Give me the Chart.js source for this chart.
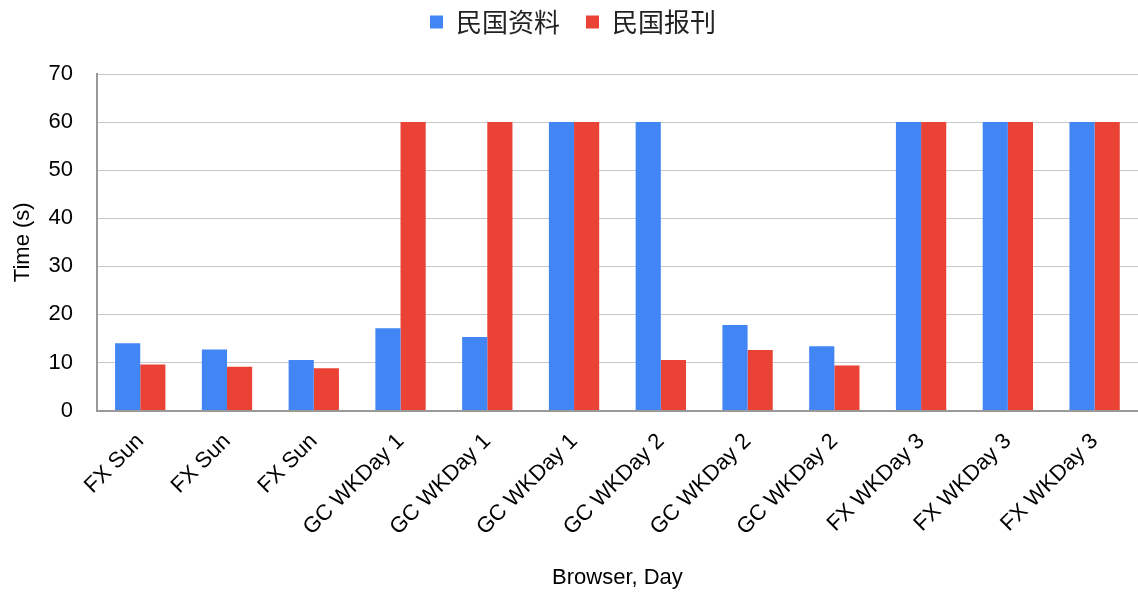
<!DOCTYPE html>
<html lang="zh">
<head>
    <meta charset="UTF-8">
    <title>Browser, Day</title>
    <script src="https://cdn.jsdelivr.net/npm/chart.js"></script>
    <style>
        html, body { margin: 0; padding: 0; background: #fff; }
        #wrap { width: 1138px; height: 595px; }
    </style>
</head>
<body>
    <div id="wrap"><canvas id="chart" width="1138" height="595"></canvas></div>

    <script>
        const categories = ['FX Sun', 'FX Sun', 'FX Sun', 'GC WKDay 1', 'GC WKDay 1', 'GC WKDay 1',
            'GC WKDay 2', 'GC WKDay 2', 'GC WKDay 2', 'FX WKDay 3', 'FX WKDay 3', 'FX WKDay 3'];
        const ziliao = [14.0, 12.7, 10.5, 17.1, 15.3, 60, 60, 17.8, 13.4, 60, 60, 60];
        const baokan = [9.6, 9.1, 8.8, 60, 60, 60, 10.5, 12.6, 9.4, 60, 60, 60];
        const seriesNames = ['民国资料', '民国报刊'];

        const font = "'Liberation Sans', Arial, sans-serif";

        // leave some room between legend and plot
        const legendGap = {
            id: 'legendGap',
            beforeInit(chart) {
                const fit = chart.legend.fit;
                chart.legend.fit = function () {
                    fit.bind(chart.legend)();
                    this.height += 29;
                };
            }
        };

        const ctx = document.getElementById('chart').getContext('2d');
        new Chart(ctx, {
            type: 'bar',
            data: {
                labels: categories,
                datasets: [{
                    label: seriesNames[0],
                    data: ziliao,
                    backgroundColor: '#4285f4'
                }, {
                    label: seriesNames[1],
                    data: baokan,
                    backgroundColor: '#ea4335'
                }]
            },
            options: {
                responsive: false,
                animation: false,
                layout: { padding: { left: 8, right: 0, top: -17, bottom: 0 } },
                datasets: {
                    bar: { categoryPercentage: 0.58, barPercentage: 1.0 }
                },
                plugins: {
                    legend: {
                        position: 'top',
                        labels: {
                            font: { family: "'Noto Sans CJK SC', sans-serif", size: 26 },
                            color: '#222',
                            boxWidth: 13,
                            boxHeight: 13,
                            padding: 26
                        }
                    },
                    tooltip: { enabled: false }
                },
                scales: {
                    x: {
                        grid: { display: false, drawTicks: false },
                        border: { color: '#999', width: 2 },
                        ticks: {
                            font: { family: font, size: 22 },
                            color: '#000',
                            maxRotation: 45,
                            minRotation: 45,
                            padding: 18
                        },
                        title: {
                            display: true,
                            text: 'Browser, Day',
                            font: { family: font, size: 22 },
                            color: '#000',
                            padding: { top: 6 }
                        }
                    },
                    y: {
                        min: 0,
                        max: 70,
                        ticks: {
                            stepSize: 10,
                            font: { family: font, size: 22 },
                            color: '#000',
                            padding: 24
                        },
                        grid: { color: '#c8c8c8', drawTicks: false },
                        border: { color: '#999', width: 2 },
                        title: {
                            display: true,
                            text: 'Time (s)',
                            font: { family: font, size: 22 },
                            color: '#000',
                            padding: { top: 2, bottom: -12 }
                        }
                    }
                }
            },
            plugins: [legendGap]
        });
    </script>
</body>
</html>
